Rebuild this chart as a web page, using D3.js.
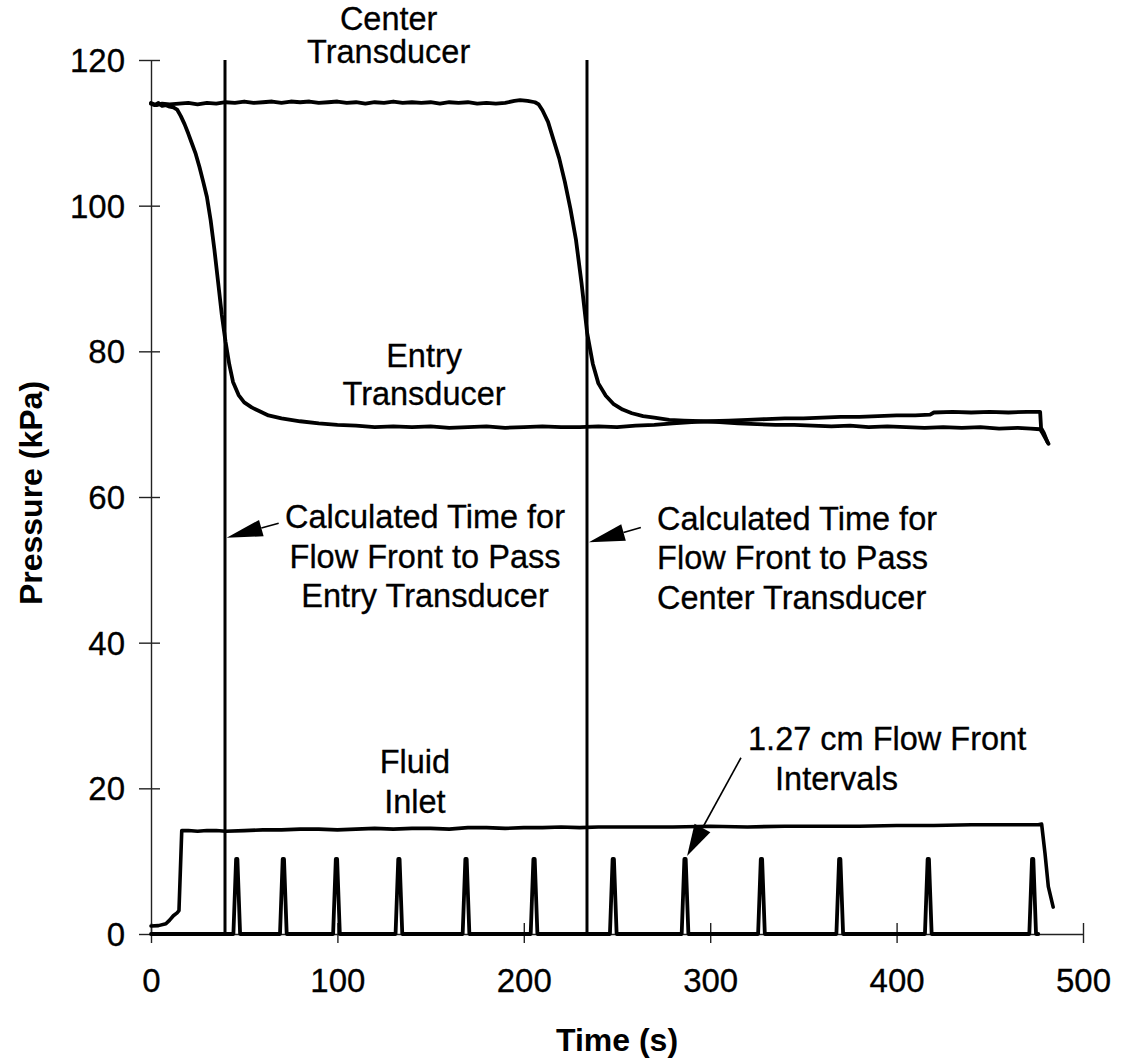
<!DOCTYPE html>
<html>
<head>
<meta charset="utf-8">
<script src="https://cdn.jsdelivr.net/npm/d3@7"></script>
<style>
  html, body { margin: 0; padding: 0; background: #fff; }
  svg { display: block; }
  text { font-family: "Liberation Sans", Arial, sans-serif; fill: #000; }
</style>
</head>
<body>
<svg id="chart" width="1121" height="1060"></svg>
<script>
// Pressure traces during an RTM fill experiment: [time (s), pressure (kPa)]
const centerTransducer = [
  [0,114.1],[3,113.8],[6,114.0],[10,113.9],[15,114.0],[20,114.1],[25,113.9],[30,114.1],
  [35,114.0],[40,114.2],[45,114.1],[50,114.3],[55,114.1],[60,114.2],[65,114.3],[70,114.1],
  [75,114.3],[80,114.2],[85,114.3],[90,114.1],[95,114.2],[100,114.3],[105,114.1],[110,114.2],
  [115,114.0],[120,114.2],[125,114.1],[130,114.3],[135,114.1],[140,114.2],[145,114.1],[150,114.2],
  [155,114.0],[160,114.2],[165,114.1],[170,114.2],[175,114.0],[180,114.1],[185,114.0],[190,114.1],
  [195,114.4],[198,114.5],[202,114.4],[206,114.2],[208,113.9],[210,113.1],[213,111.5],[216,109.0],
  [219,106.5],[222,103.3],[225,99.6],[228,95.3],[231,89.3],[234,82.5],[237,78.3],[240,75.6],
  [244,73.9],[248,72.8],[253,72.0],[258,71.5],[264,71.1],[270,70.9],[278,70.6],[286,70.5],
  [295,70.4],[305,70.3],[315,70.1],[325,70.0],[335,69.9],[345,69.9],[355,69.8],[365,69.7],
  [375,69.8],[385,69.6],[395,69.7],[405,69.6],[415,69.5],[425,69.6],[435,69.5],[445,69.6],
  [455,69.4],[465,69.5],[472,69.4],[477,69.3],[478,68.9],[480,68.0],[481.5,67.3]
];

const entryTransducer = [
  [0,114.0],[2,113.8],[4,114.1],[6,113.7],[8,113.8],[10,113.6],[12,113.5],[14,113.2],
  [16,112.3],[18,111.2],[20,109.9],[22,108.5],[24,107.1],[26,105.3],[28,103.3],[30,101.2],
  [32,98.0],[34,94.0],[36,89.5],[38,85.0],[40,81.3],[42,78.2],[44,75.8],[47,74.0],
  [50,73.0],[54,72.3],[58,71.8],[63,71.2],[70,70.8],[80,70.4],[90,70.1],[100,69.9],
  [110,69.8],[120,69.6],[130,69.7],[140,69.6],[150,69.7],[160,69.5],[170,69.6],[180,69.7],
  [190,69.5],[200,69.6],[210,69.7],[220,69.6],[230,69.6],[240,69.7],[250,69.6],[260,69.8],
  [270,69.9],[280,70.1],[290,70.3],[300,70.4],[310,70.5],[320,70.6],[330,70.7],[340,70.8],
  [350,70.8],[360,70.9],[370,71.0],[380,71.0],[390,71.1],[400,71.2],[410,71.2],[418,71.3],
  [420,71.6],[430,71.7],[440,71.6],[450,71.7],[460,71.6],[470,71.7],[477,71.7],[477.5,69.5],
  [479,68.8],[481,67.5]
];

const fluidInlet = [
  [0,1.1],[4,1.15],[8,1.4],[10,1.9],[12,2.5],[14,2.9],[15,3.2],[16.5,14.2],
  [20,14.2],[25,14.1],[30,14.2],[35,14.2],[40,14.1],[50,14.2],[60,14.3],[70,14.3],
  [80,14.4],[90,14.4],[100,14.3],[110,14.4],[120,14.5],[130,14.4],[140,14.5],[150,14.5],
  [160,14.4],[170,14.6],[180,14.6],[190,14.5],[200,14.6],[210,14.6],[220,14.7],[230,14.6],
  [240,14.7],[260,14.7],[280,14.7],[300,14.8],[320,14.7],[340,14.8],[360,14.8],[380,14.8],
  [400,14.9],[420,14.9],[440,15.0],[460,15.0],[470,15.0],[476,15.0],[477.8,15.1],
  [479.6,11.1],[481.4,6.5],[484,3.7]
];

// Flow-front marker pulses (1.27 cm intervals): pulse centre times and pulse height
const pulseTimes = [46, 71, 99.5, 133, 169, 205.5, 248, 286.5, 327.5, 369.5, 417, 473];
const pulseHeight = 10.3;
const pulseBaseHalf = 1.8;
const pulseTopHalf = 0.35;

// Calculated flow-front passage times (s)
const passTimes = [39.7, 233.9];

const xTicks = [0, 100, 200, 300, 400, 500];
const yTicks = [0, 20, 40, 60, 80, 100, 120];

// ---------------------------------------------------------------------------
const svg = d3.select("#chart");
const margin = { left: 151, top: 60, right: 38, bottom: 126 };
const W = 1121, H = 1060;

const x = d3.scaleLinear().domain([0, 500]).range([margin.left, W - margin.right]);
const y = d3.scaleLinear().domain([0, 120]).range([H - margin.bottom, margin.top]);

// Axes
const xAxis = svg.append("g")
  .attr("transform", `translate(0,${y(0)})`)
  .call(d3.axisBottom(x).tickValues(xTicks).tickSizeOuter(0).tickSizeInner(10).tickFormat(d3.format("d")));
const yAxis = svg.append("g")
  .attr("transform", `translate(${x(0)},0)`)
  .call(d3.axisLeft(y).tickValues(yTicks).tickSizeOuter(0).tickSizeInner(12).tickFormat(d3.format("d")));

[xAxis, yAxis].forEach(g => {
  g.select(".domain").attr("stroke", "#222").attr("stroke-width", 1.4);
  g.selectAll(".tick line").attr("stroke", "#222").attr("stroke-width", 1.4);
  g.selectAll(".tick text")
    .style("font-size", "33px").attr("fill", "#000")
    .attr("stroke", "#000").attr("stroke-width", 0.3);
});
// ticks cross the axis line
xAxis.selectAll(".tick line").attr("y1", -11).attr("y2", 9);
xAxis.selectAll(".tick text").attr("y", 58).attr("dy", null);
yAxis.selectAll(".tick line").attr("x1", -12).attr("x2", 9);
yAxis.selectAll(".tick text").attr("x", -26).attr("dy", "0.35em");

// Axis titles
svg.append("text")
  .attr("x", (x(0) + x(500)) / 2).attr("y", 1051)
  .attr("text-anchor", "middle")
  .style("font-size", "32px").style("font-weight", "bold")
  .text("Time (s)");
svg.append("text")
  .attr("transform", `translate(42,${(y(0) + y(120)) / 2 - 4}) rotate(-90)`)
  .attr("text-anchor", "middle")
  .style("font-size", "32px").style("font-weight", "bold")
  .text("Pressure (kPa)");

// Flow-front passage lines
svg.selectAll("line.pass")
  .data(passTimes)
  .join("line")
  .attr("class", "pass")
  .attr("x1", d => x(d)).attr("x2", d => x(d))
  .attr("y1", y(120)).attr("y2", y(0))
  .attr("stroke", "#000").attr("stroke-width", 3);

// Data traces
const line = d3.line().x(d => x(d[0])).y(d => y(d[1]));

const pulseSeries = [[0, 0]];
pulseTimes.forEach(p => {
  pulseSeries.push([p - pulseBaseHalf, 0], [p - pulseTopHalf, pulseHeight],
                   [p + pulseTopHalf, pulseHeight], [p + pulseBaseHalf, 0]);
});
pulseSeries.push([476, 0]);

const traces = [
  { name: "pulses", data: pulseSeries, w: 3.8 },
  { name: "inlet", data: fluidInlet, w: 3.6 },
  { name: "entry", data: entryTransducer, w: 3.8 },
  { name: "center", data: centerTransducer, w: 3.8 }
];
svg.selectAll("path.trace")
  .data(traces)
  .join("path")
  .attr("class", "trace")
  .attr("d", d => line(d.data))
  .attr("fill", "none")
  .attr("stroke", "#000")
  .attr("stroke-width", d => d.w)
  .attr("stroke-linejoin", "round")
  .attr("stroke-linecap", "round");

// Annotation text (anchors in data units, line gaps in px)
const labels = [
  { lines: ["Center", "Transducer"], t: 127.5, v: 124.1, gap: 33, anchor: "middle" },
  { lines: ["Entry", "Transducer"], t: 146.5, v: 77.8, gap: 38, anchor: "middle" },
  { lines: ["Calculated Time for", "Flow Front to Pass", "Entry Transducer"], t: 147, v: 55.7, gap: 39.5, anchor: "middle" },
  { lines: ["Calculated Time for", "Flow Front to Pass", "Center Transducer"], t: 271.5, v: 55.5, gap: 39.5, anchor: "start" },
  { lines: ["Fluid", "Inlet"], t: 141.6, v: 22.1, gap: 40, anchor: "middle" },
  { lines: ["1.27 cm Flow Front"], t: 320.3, v: 25.3, gap: 0, anchor: "start" },
  { lines: ["Intervals"], t: 334.8, v: 19.8, gap: 0, anchor: "start" }
];
labels.forEach(l => {
  const txt = svg.append("text")
    .attr("text-anchor", l.anchor)
    .style("font-size", "32.5px")
    .attr("stroke", "#000").attr("stroke-width", 0.3);
  l.lines.forEach((s, i) => {
    txt.append("tspan")
      .attr("x", x(l.t))
      .attr("y", y(l.v) + i * l.gap)
      .text(s);
  });
});

// Arrows: from tail to tip, in data units
const arrows = [
  { from: [68.5, 56.4], to: [40.6, 54.4], len: 36, half: 8.5 },
  { from: [262.8, 55.8], to: [234.9, 53.8], len: 36, half: 8.5 },
  { from: [316.5, 24.2], to: [287.6, 10.7], len: 32, half: 9 }
];
arrows.forEach(a => {
  const x0 = x(a.from[0]), y0 = y(a.from[1]);
  const x1 = x(a.to[0]), y1 = y(a.to[1]);
  const dx = x1 - x0, dy = y1 - y0, L = Math.hypot(dx, dy);
  const ux = dx / L, uy = dy / L;
  const bx = x1 - ux * a.len, by = y1 - uy * a.len;
  svg.append("line")
    .attr("x1", x0).attr("y1", y0).attr("x2", bx).attr("y2", by)
    .attr("stroke", "#000").attr("stroke-width", 1.6);
  svg.append("path")
    .attr("d", d3.line()([[x1, y1], [bx - uy * a.half, by + ux * a.half], [bx + uy * a.half, by - ux * a.half]]) + "Z")
    .attr("fill", "#000");
});
</script>
</body>
</html>
